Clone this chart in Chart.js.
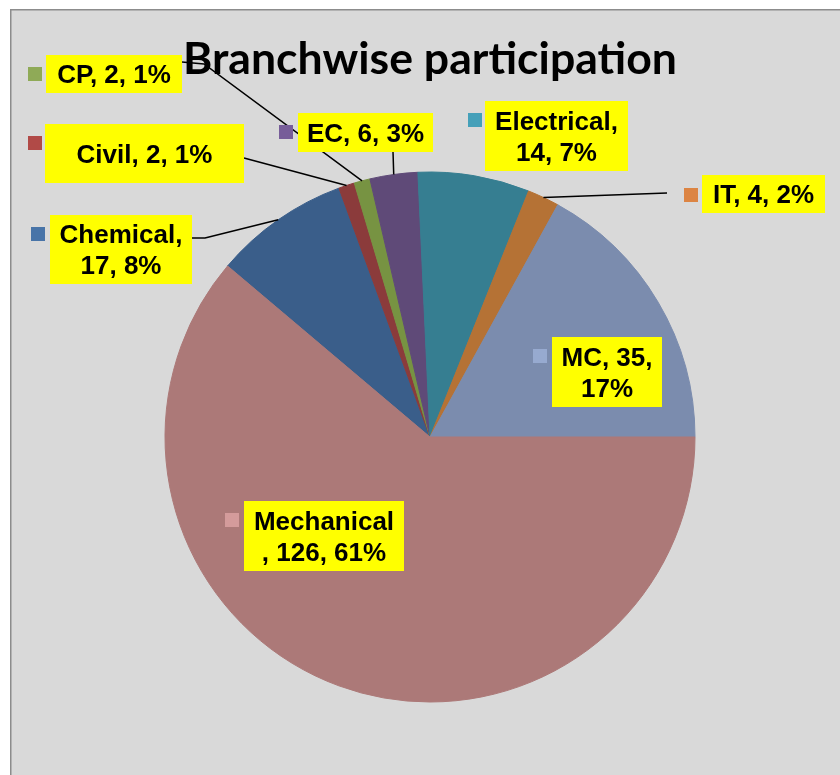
<!DOCTYPE html>
<html>
<head>
<meta charset="utf-8">
<script src="https://cdn.jsdelivr.net/npm/chart.js@4"></script>
<style>
  html, body { margin: 0; padding: 0; background: #ffffff; }
  canvas { display: block; }
</style>
</head>
<body>
<canvas id="c" width="840" height="775"></canvas>
<script>
// ---- data ----
const titleText = 'Branchwise participation';
const categories = ['Chemical', 'Civil', 'CP', 'EC', 'Electrical', 'IT', 'MC', 'Mechanical'];
const values = [17, 2, 2, 6, 14, 4, 35, 126];

// ---- styles ----
const sliceColors = ['#3A5E8A', '#8B3B3B', '#779342', '#5F4A78', '#367E91', '#B57235', '#7B8CAE', '#AC7978'];
const keyColors   = ['#4874A8', '#B14A47', '#8FAA57', '#775D99', '#45A0B9', '#DC8443', '#97AAD0', '#D49B9B'];

// label layout: box [x, y, w, h], key square [x, y], line break index, leader polyline (ends at slice edge)
const labelLayout = [
  { box: [50, 215, 142, 69],  key: [31, 227],  brk: 9,    leader: [[192, 238], [205, 238]] }, // Chemical
  { box: [45, 124, 199, 59],  key: [28, 136],  brk: null, leader: [[244, 158]] },             // Civil
  { box: [46, 55, 136, 38],   key: [28, 67],   brk: null, leader: [[182, 62], [204, 64]] },   // CP
  { box: [298, 113, 135, 39], key: [279, 125], brk: null, leader: [[393, 152]] },             // EC
  { box: [485, 101, 143, 70], key: [468, 113], brk: 11,   leader: null },                     // Electrical
  { box: [702, 175, 123, 38], key: [684, 188], brk: null, leader: [[667, 193]] },             // IT
  { box: [552, 337, 110, 70], key: [533, 349], brk: 7,    leader: null },                     // MC
  { box: [244, 501, 160, 70], key: [225, 513], brk: 10,   leader: null }                      // Mechanical
];

const total = values.reduce((a, b) => a + b, 0);
// last slice (Mechanical) begins at 3 o'clock
const rotationDeg = 90 - 360 * (total - values[values.length - 1]) / total;

const bgPlugin = {
  id: 'bg',
  beforeDraw(chart) {
    const ctx = chart.ctx;
    ctx.save();
    ctx.fillStyle = '#ffffff';
    ctx.fillRect(0, 0, chart.width, chart.height);
    ctx.fillStyle = '#D9D9D9';
    ctx.fillRect(10, 9, chart.width - 10, chart.height - 9);
    ctx.strokeStyle = '#8C8C8C';
    ctx.lineWidth = 1.5;
    ctx.beginPath();
    ctx.moveTo(10.75, chart.height);
    ctx.lineTo(10.75, 9.75);
    ctx.lineTo(chart.width, 9.75);
    ctx.stroke();
    ctx.restore();
  }
};

const labelPlugin = {
  id: 'labels',
  afterDraw(chart) {
    const ctx = chart.ctx;
    const meta = chart.getDatasetMeta(0);
    ctx.save();

    // title
    let fs = 40;
    ctx.font = `bold ${fs}px Lato, "Open Sans", sans-serif`;
    const w = ctx.measureText(titleText).width;
    fs = fs * 494 / w;
    ctx.font = `bold ${fs}px Lato, "Open Sans", sans-serif`;
    ctx.fillStyle = '#000000';
    ctx.textAlign = 'center';
    ctx.textBaseline = 'alphabetic';
    ctx.fillText(titleText, 430, 74);

    // leader lines
    ctx.strokeStyle = '#000000';
    ctx.lineWidth = 1.5;
    labelLayout.forEach((L, i) => {
      if (!L.leader) return;
      const arc = meta.data[i];
      const mid = (arc.startAngle + arc.endAngle) / 2;
      const ex = arc.x + Math.cos(mid) * arc.outerRadius;
      const ey = arc.y + Math.sin(mid) * arc.outerRadius;
      ctx.beginPath();
      ctx.moveTo(L.leader[0][0], L.leader[0][1]);
      for (let k = 1; k < L.leader.length; k++) ctx.lineTo(L.leader[k][0], L.leader[k][1]);
      ctx.lineTo(ex, ey);
      ctx.stroke();
    });

    // boxes, keys, texts
    const fontSize = 26, lineH = 31, cap = 18.6;
    ctx.font = `bold ${fontSize}px "Liberation Sans", Arial, sans-serif`;
    labelLayout.forEach((L, i) => {
      const pct = Math.round(values[i] / total * 100);
      const full = `${categories[i]}, ${values[i]}, ${pct}%`;
      const lines = L.brk ? [full.slice(0, L.brk), full.slice(L.brk).trim()] : [full];
      const [bx, by, bw, bh] = L.box;
      ctx.fillStyle = '#FFFF00';
      ctx.fillRect(bx, by, bw, bh);
      ctx.fillStyle = keyColors[i];
      ctx.fillRect(L.key[0], L.key[1], 14, 14);
      ctx.fillStyle = '#000000';
      ctx.textAlign = 'center';
      ctx.textBaseline = 'alphabetic';
      const cx = bx + bw / 2, cy = by + bh / 2;
      const first = cy - (lines.length - 1) * lineH / 2 + cap / 2;
      lines.forEach((t, k) => ctx.fillText(t, cx, first + k * lineH));
    });
    ctx.restore();
  }
};

new Chart(document.getElementById('c'), {
  type: 'pie',
  data: {
    labels: categories,
    datasets: [{
      data: values,
      backgroundColor: sliceColors,
      borderColor: sliceColors,
      borderWidth: 1,
      radius: 265
    }]
  },
  options: {
    responsive: false,
    animation: false,
    rotation: rotationDeg,
    layout: { padding: { left: 165, right: 145, top: 172, bottom: 73 } },
    plugins: {
      legend: { display: false },
      tooltip: { enabled: false },
      title: { display: false }
    }
  },
  plugins: [bgPlugin, labelPlugin]
});
</script>
</body>
</html>
